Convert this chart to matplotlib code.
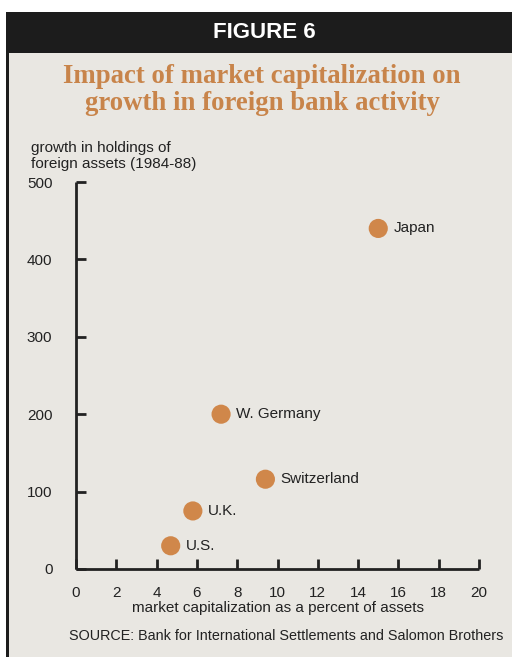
import matplotlib.pyplot as plt
from matplotlib.patches import Rectangle

# market capitalization (% of assets) vs growth in foreign asset holdings
countries = ["Japan", "W. Germany", "Switzerland", "U.K.", "U.S."]
market_cap = [15.0, 7.2, 9.4, 5.8, 4.7]
growth = [440, 200, 116, 75, 30]

xticks = list(range(0, 21, 2))
yticks = [0, 100, 200, 300, 400, 500]

W, H = 512, 657
bg = "#e9e7e2"
orange = "#d0874a"
ink = "#222222"

fig = plt.figure(figsize=(W / 100, H / 100), dpi=100, facecolor="white")

# panel, header bar and left rule
fig.patches.append(Rectangle((6 / W, 0), 1 - 6 / W, 1 - 12 / H,
                             transform=fig.transFigure, facecolor=bg, edgecolor="none", zorder=-2))
fig.patches.append(Rectangle((6 / W, 1 - 53 / H), 1 - 6 / W, 41 / H,
                             transform=fig.transFigure, facecolor="#1c1c1c", edgecolor="none", zorder=-1))
fig.patches.append(Rectangle((6 / W, 0), 2.5 / W, 1 - 12 / H,
                             transform=fig.transFigure, facecolor="#1c1c1c", edgecolor="none", zorder=-1))

fig.text(264 / W, 1 - 33 / H, "FIGURE 6", color="white", fontsize=16, fontweight="bold",
         family="Liberation Sans", ha="center", va="center")
fig.text(262 / W, 1 - 90 / H, "Impact of market capitalization on\ngrowth in foreign bank activity",
         color="#c8844a", fontsize=19.3, fontweight="bold", family="Liberation Serif",
         ha="center", va="center", linespacing=1.15)

ax = fig.add_axes([76 / W, (H - 569) / H, (479 - 76) / W, (569 - 182) / H], zorder=5)
ax.set_facecolor("none")

ax.scatter(market_cap, growth, s=190, color=orange, edgecolors="none", zorder=3, clip_on=False)
for name, x, y in zip(countries, market_cap, growth):
    ax.annotate(name, (x, y), xytext=(11, 0), textcoords="offset points",
                fontsize=11, color=ink, family="Liberation Sans", va="center", ha="left")

ax.set_xlim(0, 20)
ax.set_ylim(0, 500)
ax.set_xticks(xticks)
ax.set_yticks(yticks)
for side in ("top", "right"):
    ax.spines[side].set_visible(False)
for side in ("left", "bottom"):
    ax.spines[side].set_linewidth(2)
    ax.spines[side].set_color(ink)
    ax.spines[side].set_capstyle("butt")
ax.tick_params(axis="both", direction="in", length=7, width=2, color=ink,
               labelsize=11, labelcolor=ink)
ax.tick_params(axis="y", pad=17)
ax.tick_params(axis="x", pad=12)
for lbl in ax.get_xticklabels() + ax.get_yticklabels():
    lbl.set_family("Liberation Sans")

ax.set_xlabel("market capitalization as a percent of assets", fontsize=11,
              family="Liberation Sans", color=ink, labelpad=1)
fig.text(31 / W, 1 - 156 / H, "growth in holdings of\nforeign assets (1984-88)", fontsize=11,
         family="Liberation Sans", color=ink, ha="left", va="center", linespacing=1.1)
fig.text(503 / W, 1 - 636 / H, "SOURCE: Bank for International Settlements and Salomon Brothers",
         fontsize=10.4, family="Liberation Sans", color=ink, ha="right", va="center")

fig.savefig("out.png", dpi=100, facecolor=fig.get_facecolor())
